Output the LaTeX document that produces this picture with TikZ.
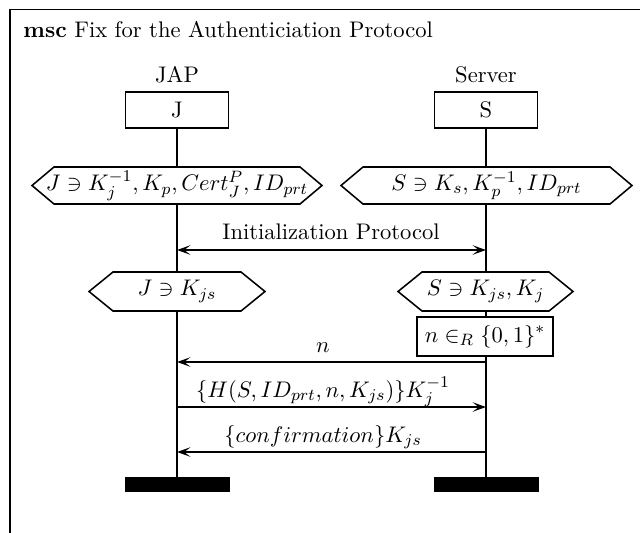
\documentclass[tikz,border=0pt]{standalone}
\usetikzlibrary{arrows.meta,calc}

% condition hexagon: name, cx, cy, half width, half height, indent, text
\newcommand\condhex[7]{%
  \draw[condline] (#2-#4,#3) -- (#2-#4+#6,#3-#5) -- (#2+#4-#6,#3-#5)
    -- (#2+#4,#3) -- (#2+#4-#6,#3+#5) -- (#2-#4+#6,#3+#5) -- cycle;
  \node[condtext] (#1) at (#2,#3) {#7};}

\tikzset{
  every node/.append style={font=\fontsize{10.95}{13.6}\selectfont},
  frameline/.style={line width=0.75pt},
  headbox/.style={draw, line width=0.75pt, minimum width=103*0.4854pt,
    minimum height=36*0.4854pt, inner sep=0pt},
  endbar/.style={fill=black, draw=black, line width=0.4pt,
    minimum width=104*0.4854pt, minimum height=14*0.4854pt, inner sep=0pt},
  lifeline/.style={line width=0.75pt},
  condline/.style={draw, fill=white, line width=0.75pt},
  condtext/.style={inner sep=0pt},
  actionbox/.style={draw, fill=white, line width=0.75pt,
    minimum width=136*0.4854pt, minimum height=39*0.4854pt, inner sep=0pt},
  msg/.style={line width=0.75pt, -{Stealth[length=6.5pt,width=4.6pt,inset=3pt]}},
  initmsg/.style={line width=1pt,
    {Stealth[length=6.5pt,width=4.6pt,inset=3pt]}-{Stealth[length=6.5pt,width=4.6pt,inset=3pt]}},
  msglabel/.style={anchor=base, inner sep=0pt},
}

\begin{document}
\begin{tikzpicture}[x=0.4854pt, y=-0.4854pt]
  \useasboundingbox (0,0) rectangle (640,532);

  % diagram frame and title
  \draw[frameline] (10,9.5) rectangle (680,560);
  \node[anchor=base west, inner sep=0pt] (title) at (23,37)
    {\textbf{msc} Fix for the Authenticiation Protocol};

  % instance names and heads
  \node (japname) at (177,75) {JAP};
  \node (servername) at (486,75) {Server};
  \node[headbox] (J) at (177,110) {J};
  \node[headbox] (S) at (486,110) {S};

  % instance ends
  \node[endbar] (Jend) at (177,484) {};
  \node[endbar] (Send) at (486,484) {};

  % lifelines
  \draw[lifeline] (J.south) -- (Jend.north);
  \draw[lifeline] (S.south) -- (Send.north);

  % initial conditions
  \condhex{cJ1}{177}{185.5}{145}{18.5}{22}{$J\ni K_j^{-1}, K_p, Cert_J^P, ID_{prt}$}
  \condhex{cS1}{486.5}{185.5}{145.5}{18.5}{22}{$S\ni K_s, K_p^{-1}, ID_{prt}$}

  % initialization protocol
  \coordinate (j1) at (177,250);
  \coordinate (s1) at (486,250);
  \draw[initmsg] (j1) -- (s1);
  \node[msglabel] (initlabel) at (331,239) {Initialization Protocol};

  % conditions after initialization
  \condhex{cJ2}{177}{291.5}{88}{19.5}{24}{$J\ni K_{js}$}
  \condhex{cS2}{485.5}{291.5}{87.5}{19.5}{24}{$S\ni K_{js}, K_j$}

  % nonce generation
  \node[actionbox] (nonce) at (485,336.5) {$n\in_R\{0,1\}^*$};

  % messages
  \coordinate (s2) at (486,362);
  \coordinate (j2) at (177,362);
  \coordinate (j3) at (177,407);
  \coordinate (s3) at (486,407);
  \coordinate (s4) at (486,452);
  \coordinate (j4) at (177,452);
  \draw[msg] (s2) -- (j2);
  \node[msglabel] (lab2) at (323,352) {$n$};
  \draw[msg] (j3) -- (s3);
  \node[msglabel] (lab3) at (323,397) {$\{H(S, ID_{prt}, n, K_{js})\}K_j^{-1}$};
  \draw[msg] (s4) -- (j4);
  \node[msglabel] (lab4) at (323,442) {$\{confirmation\}K_{js}$};
\end{tikzpicture}
\end{document}
